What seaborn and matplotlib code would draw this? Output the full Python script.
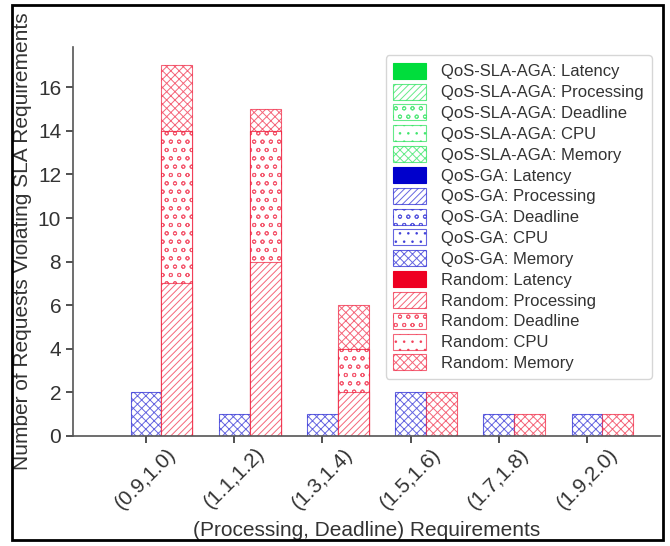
import numpy as np
import pandas as pd
import matplotlib
matplotlib.use("Agg")
import matplotlib.pyplot as plt
from matplotlib.patches import Patch, Rectangle
from matplotlib.colors import to_rgba
import seaborn as sns

# ---- data -------------------------------------------------------------
categories = ["(0.9,1.0)", "(1.1,1.2)", "(1.3,1.4)", "(1.5,1.6)", "(1.7,1.8)", "(1.9,2.0)"]
methods = ["QoS-SLA-AGA", "QoS-GA", "Random"]
components = ["Latency", "Processing", "Deadline", "CPU", "Memory"]

# violations per category for each method and requirement type
aga_latency    = [0, 0, 0, 0, 0, 0]
aga_processing = [0, 0, 0, 0, 0, 0]
aga_deadline   = [0, 0, 0, 0, 0, 0]
aga_cpu        = [0, 0, 0, 0, 0, 0]
aga_memory     = [0, 0, 0, 0, 0, 0]

ga_latency    = [0, 0, 0, 0, 0, 0]
ga_processing = [0, 0, 0, 0, 0, 0]
ga_deadline   = [0, 0, 0, 0, 0, 0]
ga_cpu        = [0, 0, 0, 0, 0, 0]
ga_memory     = [2, 1, 1, 2, 1, 1]

rnd_latency    = [0, 0, 0, 0, 0, 0]
rnd_processing = [7, 8, 2, 0, 0, 0]
rnd_deadline   = [7, 6, 2, 0, 0, 0]
rnd_cpu        = [0, 0, 0, 0, 0, 0]
rnd_memory     = [3, 1, 2, 2, 1, 1]

values = {
    "QoS-SLA-AGA": [aga_latency, aga_processing, aga_deadline, aga_cpu, aga_memory],
    "QoS-GA": [ga_latency, ga_processing, ga_deadline, ga_cpu, ga_memory],
    "Random": [rnd_latency, rnd_processing, rnd_deadline, rnd_cpu, rnd_memory],
}

# ---- style ------------------------------------------------------------
colors = {"QoS-SLA-AGA": "#00dd3c", "QoS-GA": "#0000cc", "Random": "#ee0022"}
hatches = {"Latency": "", "Processing": "/////", "Deadline": "oo", "CPU": "..", "Memory": "xxxx"}
edge_alpha = 0.6

sns.set_theme(style="ticks")
txt = "#333333"
plt.rcParams.update({
    "font.family": ["Liberation Sans", "DejaVu Sans"],
    "text.color": txt,
    "axes.labelcolor": txt,
    "xtick.color": txt,
    "ytick.color": txt,
    "axes.edgecolor": "#555555",
    "hatch.linewidth": 0.7,
    "axes.linewidth": 1.2,
    "xtick.major.width": 1.2,
    "ytick.major.width": 1.2,
})

fig = plt.figure(figsize=(6.7, 5.46), dpi=100)
ax = fig.add_axes([0.109, 0.2015, 0.876, 0.7125])

# cumulative stacks per method, drawn from the top segment downward so each
# lower segment covers the one beneath it
rows = []
for m in methods:
    cum = np.cumsum(np.array(values[m], dtype=float), axis=0)
    for k, comp in enumerate(components):
        for c, cat in enumerate(categories):
            rows.append({"method": m, "component": comp, "category": cat, "cum": cum[k, c]})
df = pd.DataFrame(rows)

group_width = 1.05
for comp in reversed(components):
    layer = df[df["component"] == comp]
    n_before = len(ax.containers)
    sns.barplot(data=layer, x="category", y="cum", hue="method",
                order=categories, hue_order=methods, palette=colors,
                width=group_width, dodge=True, legend=False, ax=ax,
                errorbar=None, saturation=1)
    for m, cont in zip(methods, ax.containers[n_before:]):
        col = colors[m]
        for bar in cont:
            if bar.get_height() <= 0:
                bar.set_visible(False)
                continue
            bar.set_facecolor(col if comp == "Latency" else "white")
            bar.set_edgecolor(to_rgba(col, edge_alpha))
            bar.set_hatch(hatches[comp])
            bar.set_linewidth(0.8)

bw = group_width / 3
lo, hi = -1.5 * bw, len(categories) - 1 + 1.5 * bw
pad = 0.05 * (hi - lo)
ax.set_xlim(lo - pad, hi + pad)
top = df["cum"].max()
ax.set_ylim(0, top * 1.05)
ax.set_yticks(np.arange(0, 17, 2))

ax.set_xlabel("(Processing, Deadline) Requirements", fontsize=15, labelpad=6)
ax.set_ylabel("Number of Requests Violating SLA Requirements", fontsize=15, labelpad=4)
ax.tick_params(axis="both", labelsize=15, length=5)
ax.tick_params(axis="x", pad=1)
plt.setp(ax.get_xticklabels(), rotation=45, ha="center")
sns.despine(ax=ax)

handles = []
for m in methods:
    for comp in components:
        col = colors[m]
        handles.append(Patch(facecolor=col if comp == "Latency" else "white",
                             edgecolor=to_rgba(col, 1.0 if comp == "Latency" else edge_alpha),
                             hatch=hatches[comp], linewidth=0.8, label=f"{m}: {comp}"))
ax.legend(handles=handles, loc="upper right", fontsize=12,
          handlelength=2.0, handleheight=1.1, labelspacing=0.25,
          handletextpad=0.9, borderpad=0.45)

fig.add_artist(Rectangle((0.018, 0.011), 0.9716, 0.98, transform=fig.transFigure,
                         fill=False, edgecolor="black", linewidth=2))

fig.savefig("out.png", dpi=100)
